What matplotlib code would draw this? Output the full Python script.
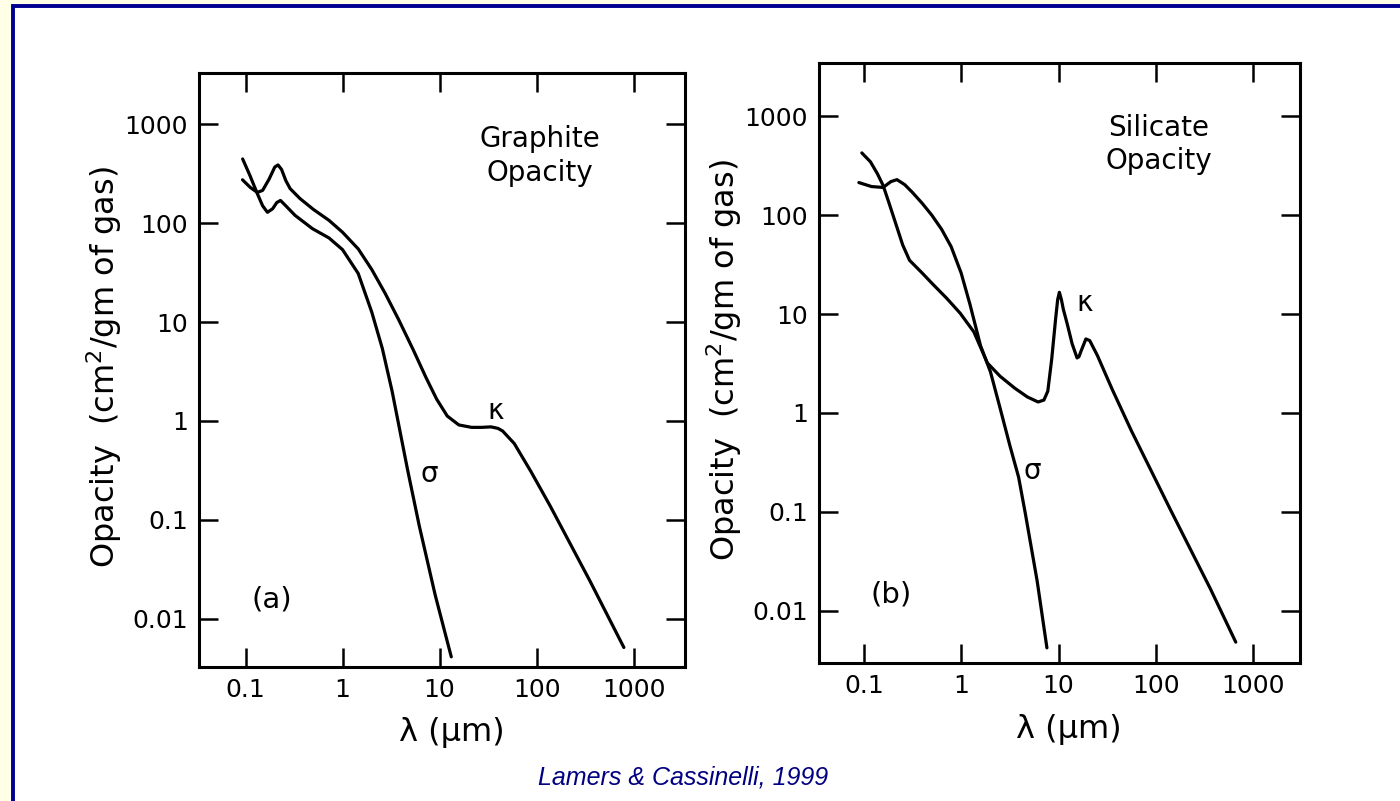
import matplotlib
matplotlib.use("Agg")
import matplotlib.pyplot as plt
from matplotlib.patches import Rectangle
from matplotlib.ticker import NullLocator

# valores (lambda em micrometros, opacidade em cm^2/g)
lam_graf_sigma = [0.0933, 0.11, 0.132, 0.15, 0.168, 0.19, 0.21, 0.229, 0.26, 0.324,
                  0.49, 0.724, 1.0, 1.45, 2.0, 2.57, 3.24, 4.68, 6.17, 9.0, 13.2]
op_graf_sigma = [447, 310, 200, 150, 129, 140, 162, 170, 150, 120,
                 88, 71, 54, 31, 12.6, 5.4, 2.0, 0.32, 0.087, 0.0174, 0.0041]

lam_graf_kappa = [0.093, 0.112, 0.132, 0.15, 0.175, 0.2, 0.216, 0.235, 0.26, 0.288,
                  0.363, 0.5, 0.724, 1.0, 1.45, 2.0, 2.75, 3.8, 5.37, 7.24,
                  9.33, 12.0, 15.8, 21.4, 27, 33.9, 40, 44.7, 58.9, 87,
                  138, 355, 794]
op_graf_kappa = [275, 230, 205, 215, 280, 370, 389, 350, 270, 224,
                 178, 138, 107, 81, 55, 34, 19.5, 10.5, 5.2, 2.75,
                 1.66, 1.12, 0.91, 0.86, 0.86, 0.87, 0.84, 0.79, 0.59, 0.31,
                 0.138, 0.024, 0.0051]

lam_sil_sigma = [0.089, 0.12, 0.158, 0.19, 0.219, 0.263, 0.316, 0.398, 0.5, 0.63,
                 0.79, 1.0, 1.23, 1.58, 2.0, 2.51, 3.16, 3.89, 4.57, 6.03, 7.6]
op_sil_sigma = [214, 195, 191, 219, 229, 204, 170, 132, 100, 72,
                48, 26, 12.6, 4.8, 2.6, 1.12, 0.47, 0.224, 0.095, 0.020, 0.0042]

lam_sil_kappa = [0.0955, 0.117, 0.138, 0.158, 0.182, 0.209, 0.251, 0.295, 0.398, 0.513,
                 0.708, 0.977, 1.35, 1.86, 2.51, 3.55, 4.79, 6.17, 7.08, 7.76,
                 8.51, 9.33, 9.8, 10.2, 10.7, 11.2, 12.3, 13.8, 15.5, 16.2,
                 17.0, 19.1, 20.9, 25.1, 35.5, 56, 141, 363, 661]
op_sil_kappa = [427, 347, 263, 200, 132, 87, 50, 35, 26, 20,
                14.5, 10.2, 6.6, 3.2, 2.35, 1.78, 1.45, 1.29, 1.35, 1.66,
                3.5, 8.9, 14, 16.6, 14, 11.2, 7.9, 5.0, 3.6, 3.7,
                4.2, 5.6, 5.4, 3.8, 1.74, 0.66, 0.105, 0.0166, 0.0048]

xticks = [0.1, 1, 10, 100, 1000]
xtick_labels = ["0.1", "1", "10", "100", "1000"]
yticks = [0.01, 0.1, 1, 10, 100, 1000]
ytick_labels = ["0.01", "0.1", "1", "10", "100", "1000"]

plt.rcParams["font.family"] = ["DejaVu Sans"]
plt.rcParams["mathtext.fontset"] = "dejavusans"

fig = plt.figure(figsize=(14, 8.01), dpi=100, facecolor="#FFFFE8")

# moldura branca com borda azul (atras dos eixos)
fig.patches.append(Rectangle((13 / 1400, -0.1), 1.2, 1.0 - 5.5 / 801 + 0.1,
                             transform=fig.transFigure, facecolor="white",
                             edgecolor="#000090", linewidth=2.8, zorder=-10))

estilo = dict(color="black", lw=2.3, solid_joinstyle="round", solid_capstyle="round")


def painel(ax, xlim, ylim):
    ax.set_facecolor("none")
    ax.set_xscale("log")
    ax.set_yscale("log")
    ax.set_xlim(*xlim)
    ax.set_ylim(*ylim)
    ax.set_xticks(xticks, xtick_labels)
    ax.set_yticks(yticks, ytick_labels)
    ax.xaxis.set_minor_locator(NullLocator())
    ax.yaxis.set_minor_locator(NullLocator())
    ax.tick_params(which="major", direction="in", length=13.5, width=1.8,
                   top=True, right=True, labelsize=18, pad=8)
    for s in ax.spines.values():
        s.set_linewidth(2.2)
    ax.set_xlabel("λ (μm)", fontsize=23)
    ax.set_ylabel(r"Opacity  (cm$^2$/gm of gas)", fontsize=23)
    ax.yaxis.set_label_coords(-0.155, 0.505)
    ax.xaxis.set_label_coords(0.52, -0.085)


ax1 = fig.add_axes([199 / 1400, 1 - 667 / 801, 486 / 1400, 594 / 801])
painel(ax1, (10 ** -1.48, 10 ** 3.53), (10 ** -2.49, 10 ** 3.52))
ax1.plot(lam_graf_sigma, op_graf_sigma, **estilo)
ax1.plot(lam_graf_kappa, op_graf_kappa, **estilo)
ax1.text(107, 480, "Graphite\nOpacity", fontsize=20, ha="center", va="center",
         linespacing=1.25)
ax1.text(38, 1.26, "κ", fontsize=20, ha="center", va="center")
ax1.text(7.8, 0.29, "σ", fontsize=20, ha="center", va="center")
ax1.text(0.185, 0.0155, "(a)", fontsize=21, ha="center", va="center")

ax2 = fig.add_axes([819 / 1400, 1 - 663 / 801, 481 / 1400, 600 / 801])
painel(ax2, (10 ** -1.46, 10 ** 3.48), (10 ** -2.53, 10 ** 3.54))
ax2.plot(lam_sil_sigma, op_sil_sigma, **estilo)
ax2.plot(lam_sil_kappa, op_sil_kappa, **estilo)
ax2.text(107, 519, "Silicate\nOpacity", fontsize=20, ha="center", va="center",
         linespacing=1.25)
ax2.text(18.7, 12.8, "κ", fontsize=20, ha="center", va="center")
ax2.text(5.4, 0.26, "σ", fontsize=20, ha="center", va="center")
ax2.text(0.19, 0.0147, "(b)", fontsize=21, ha="center", va="center")

fig.text(683 / 1400, 1 - 777 / 801, "Lamers & Cassinelli, 1999", color="#000080",
         fontstyle="italic", family="Liberation Sans", fontsize=18,
         ha="center", va="center")

plt.savefig("out.png", dpi=100, facecolor=fig.get_facecolor())
